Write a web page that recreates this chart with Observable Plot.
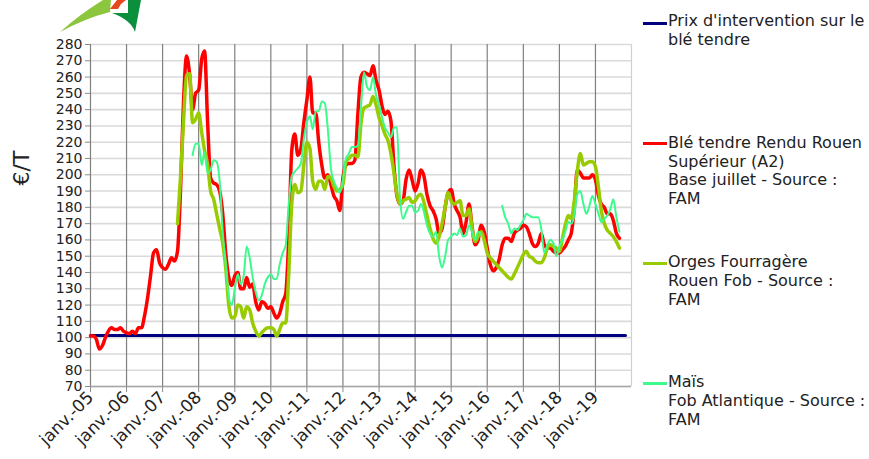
<!DOCTYPE html>
<html>
<head>
<meta charset="utf-8">
<script src="https://cdn.jsdelivr.net/npm/d3@7"></script>
<script src="https://cdn.jsdelivr.net/npm/@observablehq/plot@0.6"></script>
<style>
  html, body { margin: 0; padding: 0; background: #fff; }
  #wrap { position: relative; width: 869px; height: 459px; font-family: "DejaVu Sans", Verdana, sans-serif; color: #222; }
  #chart { position: absolute; left: 0; top: 0; }
  .leg { position: absolute; left: 668px; font-size: 16px; line-height: 18.7px; white-space: nowrap; color: #222; }
  .mk { position: absolute; left: 643px; width: 24px; height: 3px; }
  #ylab { position: absolute; left: 21px; top: 168px; transform: translate(-50%, -50%) rotate(-90deg); font-size: 22px; white-space: nowrap; color: #222; }
  #logo { position: absolute; left: 0; top: 0; }
</style>
</head>
<body>
<div id="wrap">
  <div id="chart"></div>
  <svg id="logo" width="160" height="36" viewBox="0 0 160 36">
    <path d="M60,32 Q80,14 103,0 L111,0 L110,12 Q86,18 60,32 Z" fill="#8cc63e"/>
    <path d="M112,13 L128,13 L128,0 L141,0 L135,32 Q131,20 112,13 Z" fill="#0a8f3c"/>
    <path d="M110,9 L117,0 L126,0 L121,4 L118,9 Z" fill="#e8461e"/>
  </svg>
  <div id="ylab">€/T</div>
  <div class="mk" style="top:21.5px;background:#000080"></div>
  <div class="leg" style="top:12.3px">Prix d'intervention sur le<br>blé tendre</div>
  <div class="mk" style="top:141.5px;background:#ff0000"></div>
  <div class="leg" style="top:134px">Blé tendre Rendu Rouen<br>Supérieur (A2)<br>Base juillet - Source :<br>FAM</div>
  <div class="mk" style="top:262px;background:#99cc00"></div>
  <div class="leg" style="top:253.3px">Orges Fourragère<br>Rouen Fob - Source :<br>FAM</div>
  <div class="mk" style="top:382px;background:#3cfa8c"></div>
  <div class="leg" style="top:373.3px">Maïs<br>Fob Atlantique - Source :<br>FAM</div>
</div>
<script>
// Monthly values, month index 0 = janv. 2005
const wheatStart = 0;
const wheat = [
  101, 101, 99, 93, 95, 100, 104, 106, 105, 105, 106, 104,
  103, 102.5, 104, 102.5, 106, 106, 113, 124, 138, 152, 154, 146,
  143, 142, 145, 149, 147, 153, 190, 245, 273, 262, 240, 250,
  252, 271, 276, 232, 198, 195, 194, 190, 176, 152, 137, 132,
  138, 140, 130, 130, 137, 131, 133, 122, 117, 122, 121, 118,
  119, 115, 112, 115, 122, 127, 160, 215, 225, 212, 216, 232,
  246, 260, 238, 238, 220, 206, 198, 200, 194, 187, 184, 178,
  198, 206, 207, 207, 209, 238, 260, 263, 262, 261, 267, 258,
  252, 242, 237, 239, 233, 205, 187, 182, 184, 197, 203, 197,
  190, 195, 203, 199, 188, 181, 178, 173, 164, 167, 180, 189,
  191, 182, 178, 174, 164, 171, 182, 168, 157, 160, 169, 165,
  155, 145, 141, 143, 148, 157, 161, 161, 159, 164, 166, 167,
  169, 168, 164, 158, 156, 158, 164, 157, 155, 155, 153, 152,
  152, 154, 156, 160, 164, 180, 203, 201, 198, 198, 198, 200,
  197, 187, 182, 180, 176, 176, 172, 164, 161
];
const barleyStart = 29;
const barley = [
  170, 198, 233, 261, 262, 232, 234,
  238, 226, 215, 206, 190, 185, 176, 167, 158, 143, 120, 112,
  113, 120, 119, 112, 119, 117, 109, 104, 101, 103, 105, 106,
  106, 105, 101, 105, 109, 109, 139, 182, 194, 189, 190, 206,
  220, 216, 196, 191, 196, 196, 191, 199, 198, 193, 190, 191,
  194, 208, 210, 212, 212, 211, 231, 241, 242, 243, 248, 243,
  235, 230, 225, 221, 213, 201, 188, 182, 184, 185, 186, 183,
  184, 187, 188, 183, 175, 167, 161, 158, 162, 170, 180, 189,
  184, 182, 183, 184, 175, 175, 179, 167, 159, 162, 165, 160,
  152, 149, 147, 145, 143, 141, 139, 137, 136, 139, 143, 147,
  151, 153, 150, 149, 147, 146, 146, 149, 155, 157, 156, 155,
  153, 161, 169, 175, 173, 184, 202, 213, 206, 207, 208, 208,
  205, 192, 178, 170, 166, 164, 162, 159, 155
];
const maizeStart = 34;
const maize = [
  212, 219,
  219, 206, 214, 201, 203, 209, 208, 196, 165, 145, 125, 120,
  130, 139, 133, 138, 156, 149, 137, 128, 123, 126, 133, 137,
  139, 136, 136, 145, 152, 157, 182, 199, 202, 204, 207, 222,
  232, 236, 228, 239, 239, 245, 244, 228, 204, 196, 192, 189,
  197, 210, 213, 217, 217, 218, 241, 263, 254, 252, 260, 249,
  243, 235, 229, 226, 223, 229, 229, 186, 173, 177, 181, 181,
  177, 178, 182, 177, 169, 164, 162, 165, 150, 143, 150, 160,
  162, 164, 163, 167, 162, 163, 169, 165, 160, 165, 163, null,
  null, null, null, null, null, 181, 174, 170, 164, 167, 166, 169,
  172, 176, 175, 174, 174, 174, 167, 152, 157, 160, 158, 150,
  156, 160, 165, 171, 170, 175, 188, 190, 182, 176, 181, 187,
  182, 176, 171, 173, 175, 179, 185, 174, 165
];
const interventionPrice = 101.31;
const interventionMonths = [0, 178];
const yTicks = [70, 80, 90, 100, 110, 120, 130, 140, 150, 160, 170, 180, 190, 200, 210, 220, 230, 240, 250, 260, 270, 280];
const tickYears = [2005, 2006, 2007, 2008, 2009, 2010, 2011, 2012, 2013, 2014, 2015, 2016, 2017, 2018, 2019];
const tickPrefix = "janv.-";

const monthDate = (m) => new Date(Date.UTC(2005, m, 1));
const toRows = (start, values) => values.map((v, i) => ({date: monthDate(start + i), value: v == null ? NaN : v}));

const wheatRows = toRows(wheatStart, wheat);
const barleyRows = toRows(barleyStart, barley);
const maizeRows = toRows(maizeStart, maize);
const interventionRows = interventionMonths.map(m => ({date: monthDate(m), value: interventionPrice}));
const yearDates = tickYears.map(y => new Date(Date.UTC(y, 0, 1)));
const xStart = new Date(Date.UTC(2005, 0, 1));
const xEnd = new Date(Date.UTC(2020, 0, 1));

const chart = Plot.plot({
  width: 869,
  height: 459,
  marginLeft: 90,
  marginRight: 238,
  marginTop: 44,
  marginBottom: 73,
  style: {fontFamily: "DejaVu Sans, Verdana, sans-serif", background: "transparent", color: "#222"},
  x: {type: "utc", domain: [xStart, xEnd]},
  y: {domain: [70, 280]},
  marks: [
    Plot.ruleY(yTicks, {stroke: "#dadada", strokeWidth: 1.6}),
    Plot.ruleX([xEnd], {stroke: "#d0d0d0", strokeWidth: 1.2}),
    Plot.ruleX(yearDates, {stroke: "#808080", strokeWidth: 1.2}),
    Plot.ruleY([70], {stroke: "#a6a6a6", strokeWidth: 1.6}),
    Plot.axisY({ticks: yTicks, tickSize: 5, tickPadding: 3, fontSize: 14, label: null, stroke: "#8c8c8c", fill: "#222", style: {letterSpacing: "0.8px"}}),
    Plot.axisX({ticks: yearDates, tickFormat: d => tickPrefix + String(d.getUTCFullYear()).slice(2), tickRotate: -45, tickSize: 6, tickPadding: 2, fontSize: 17, label: null, stroke: "#8c8c8c", fill: "#222"}),
    Plot.line(interventionRows, {x: "date", y: "value", stroke: "#000080", strokeWidth: 3}),
    Plot.line(wheatRows, {x: "date", y: "value", stroke: "#ff0000", strokeWidth: 3.5, curve: "monotone-x"}),
    Plot.line(barleyRows, {x: "date", y: "value", stroke: "#99cc00", strokeWidth: 3.5, curve: "monotone-x"}),
    Plot.line(maizeRows, {x: "date", y: "value", stroke: "#3cfa8c", strokeWidth: 2, curve: "monotone-x"})
  ]
});
document.getElementById("chart").appendChild(chart);
</script>
</body>
</html>
